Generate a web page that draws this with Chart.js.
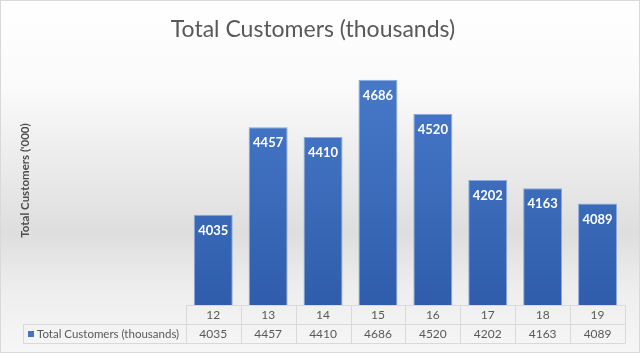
<!DOCTYPE html>
<html lang="en">
<head>
    <meta charset="UTF-8">
    <title>Total Customers (thousands)</title>
    <script src="https://cdn.jsdelivr.net/npm/chart.js"></script>
    <style>
        body { margin: 0; background: #fff; }
    </style>
</head>
<body>
    <canvas id="customersChart" width="640" height="353"></canvas>
    <script>
        // chart data
        const categories = ['12', '13', '14', '15', '16', '17', '18', '19'];
        const customers = [4035, 4457, 4410, 4686, 4520, 4202, 4163, 4089];
        const seriesName = 'Total Customers (thousands)';
        const yTitle = "Total Customers ('000)";
        const yMin = 3600;
        const yMax = 4800;

        const FONT = 'Lato, "Open Sans", sans-serif';
        const TEXT = '#595959';
        const LINE = '#d9d9d9';

        // gray "floor" gradient behind everything + outer frame
        const backgroundPlugin = {
            id: 'background',
            beforeDraw(chart) {
                const ctx = chart.ctx;
                const h = chart.height;
                const g = ctx.createLinearGradient(0, 0, 0, h);
                g.addColorStop(0, '#ffffff');
                g.addColorStop(0.25, '#fafafa');
                g.addColorStop(0.66, '#dedede');
                g.addColorStop(0.82, '#eeeeee');
                g.addColorStop(1, '#f6f6f6');
                ctx.save();
                ctx.fillStyle = g;
                ctx.fillRect(0, 0, chart.width, h);
                ctx.strokeStyle = LINE;
                ctx.lineWidth = 1;
                ctx.strokeRect(0.5, 0.5, chart.width - 1, h - 1);
                ctx.restore();
            }
        };

        // soft perspective shadows on the floor, to the right of each bar
        const shadowPlugin = {
            id: 'barShadows',
            beforeDatasetsDraw(chart) {
                const ctx = chart.ctx;
                const meta = chart.getDatasetMeta(0);
                ctx.save();
                ctx.filter = 'blur(4px)';
                ctx.fillStyle = 'rgba(0,0,0,0.22)';
                meta.data.forEach(bar => {
                    const p = bar.getProps(['x', 'y', 'base', 'width'], true);
                    const left = p.x - p.width / 2;
                    const right = p.x + p.width / 2;
                    const sh = (p.base - p.y) * 0.2;
                    const sx = sh * 1.3;
                    ctx.beginPath();
                    ctx.moveTo(left, p.base);
                    ctx.lineTo(right, p.base);
                    ctx.lineTo(right + sx, p.base - sh);
                    ctx.lineTo(left + sx, p.base - sh);
                    ctx.closePath();
                    ctx.fill();
                });
                ctx.restore();
            }
        };

        // white values inside the top of each bar
        const valueLabels = {
            id: 'valueLabels',
            afterDatasetsDraw(chart) {
                const ctx = chart.ctx;
                const meta = chart.getDatasetMeta(0);
                ctx.save();
                ctx.font = 'bold 13px ' + FONT;
                ctx.fillStyle = '#ffffff';
                ctx.textAlign = 'center';
                ctx.textBaseline = 'middle';
                meta.data.forEach((bar, i) => {
                    ctx.fillText(String(customers[i]), bar.x, bar.y + 16);
                });
                ctx.restore();
            }
        };

        // Excel style data table under the plot
        const dataTable = {
            id: 'dataTable',
            afterDraw(chart) {
                const ctx = chart.ctx;
                const area = chart.chartArea;
                const x = chart.scales.x;
                const rowH = 19;
                const top = Math.round(area.bottom) + 0.5;
                const mid = top + rowH;
                const bottom = mid + rowH;
                const left = Math.round(area.left) + 0.5;
                const right = Math.round(area.right) + 0.5;
                const legendLeft = 23.5;
                const step = (x.right - x.left) / categories.length;

                ctx.save();
                ctx.strokeStyle = LINE;
                ctx.lineWidth = 1;
                ctx.beginPath();
                ctx.moveTo(left, top); ctx.lineTo(right, top);
                ctx.moveTo(legendLeft, mid); ctx.lineTo(right, mid);
                ctx.moveTo(legendLeft, bottom); ctx.lineTo(right, bottom);
                ctx.moveTo(legendLeft, mid); ctx.lineTo(legendLeft, bottom);
                for (let i = 0; i <= categories.length; i++) {
                    const cx = Math.round(x.left + i * step) + 0.5;
                    ctx.moveTo(cx, top); ctx.lineTo(cx, bottom);
                }
                ctx.stroke();

                ctx.font = '12px ' + FONT;
                ctx.fillStyle = TEXT;
                ctx.textAlign = 'center';
                ctx.textBaseline = 'middle';
                categories.forEach((c, i) => {
                    const cx = x.getPixelForValue(i);
                    ctx.fillText(c, cx, top + rowH / 2);
                    ctx.fillText(String(customers[i]), cx, mid + rowH / 2);
                });

                ctx.fillStyle = '#4472c4';
                ctx.fillRect(28, mid + rowH / 2 - 3, 6, 6);
                ctx.fillStyle = TEXT;
                ctx.textAlign = 'left';
                ctx.font = '11.5px ' + FONT;
                ctx.fillText(seriesName, 37, mid + rowH / 2);
                ctx.restore();
            }
        };

        const ctx = document.getElementById('customersChart').getContext('2d');
        new Chart(ctx, {
            type: 'bar',
            data: {
                labels: categories,
                datasets: [{
                    label: seriesName,
                    data: customers,
                    backgroundColor: function(context) {
                        const area = context.chart.chartArea;
                        if (!area) return '#4472c4';
                        const g = context.chart.ctx.createLinearGradient(0, area.top, 0, area.bottom);
                        g.addColorStop(0, '#4a7ccc');
                        g.addColorStop(1, '#2f5dab');
                        return g;
                    },
                    borderColor: '#8aa9dc',
                    borderWidth: 1,
                    barPercentage: 0.71,
                    categoryPercentage: 1.0
                }]
            },
            options: {
                responsive: false,
                animation: false,
                layout: {
                    padding: { left: 1, right: 15, top: 0, bottom: 48 }
                },
                plugins: {
                    legend: { display: false },
                    tooltip: { enabled: false },
                    title: {
                        display: true,
                        text: seriesName,
                        color: TEXT,
                        font: { family: FONT, size: 23, weight: 'normal' },
                        padding: { top: 16, bottom: 12.4 }
                    }
                },
                scales: {
                    x: {
                        display: false
                    },
                    y: {
                        min: yMin,
                        max: yMax,
                        ticks: { display: false },
                        grid: { display: false, drawTicks: false },
                        border: { display: false },
                        title: {
                            display: true,
                            text: yTitle,
                            color: '#4d4d4d',
                            font: { family: FONT, size: 11.5, weight: 'bold' },
                            padding: { top: 17, bottom: 154 }
                        }
                    }
                }
            },
            plugins: [backgroundPlugin, shadowPlugin, valueLabels, dataTable]
        });
    </script>
</body>
</html>
